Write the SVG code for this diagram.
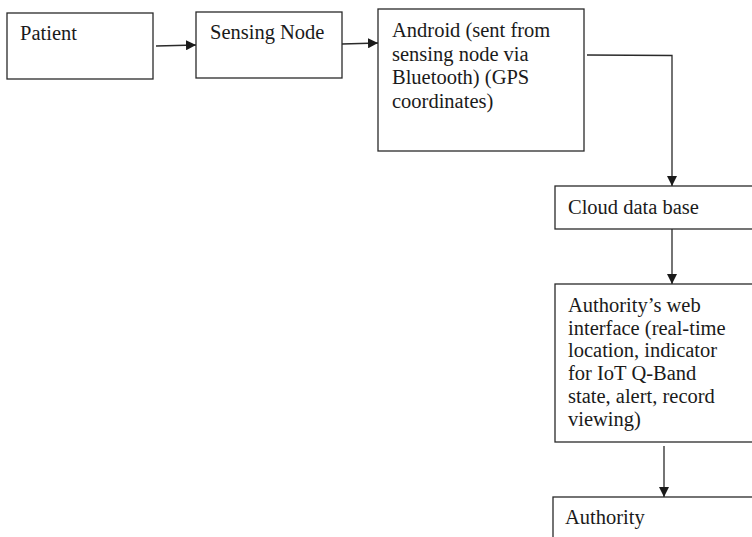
<svg xmlns="http://www.w3.org/2000/svg" width="752" height="537" viewBox="0 0 752 537">
  <style>
    .box { fill: #ffffff; stroke: #2a2a2a; stroke-width: 1.3; }
    .lbl { font-family: "Liberation Serif", "Times New Roman", serif; font-size: 20.5px; fill: #1a1a1a; }
    .wire { fill: none; stroke: #2a2a2a; stroke-width: 1.3; }
  </style>
  <defs>
    <marker id="arrow" viewBox="0 0 10 10" refX="10" refY="5" markerWidth="10" markerHeight="10" markerUnits="userSpaceOnUse" orient="auto">
      <path d="M0,0 L10,5 L0,10 z" fill="#1a1a1a"/>
    </marker>
  </defs>
  <rect width="752" height="537" fill="#ffffff"/>

  <g id="patient">
    <rect class="box" x="7" y="13" width="146" height="66"/>
    <text class="lbl" x="20" y="40">Patient</text>
  </g>

  <g id="sensing-node">
    <rect class="box" x="196" y="12" width="146" height="66"/>
    <text class="lbl" x="210" y="39">Sensing Node</text>
  </g>

  <g id="android">
    <rect class="box" x="378" y="9" width="206" height="142"/>
    <text class="lbl" x="392" y="37">Android (sent from</text>
    <text class="lbl" x="392" y="60.5">sensing node via</text>
    <text class="lbl" x="392" y="84">Bluetooth) (GPS</text>
    <text class="lbl" x="392" y="108">coordinates)</text>
  </g>

  <g id="cloud-db">
    <rect class="box" x="555" y="186" width="210" height="43"/>
    <text class="lbl" x="568" y="214">Cloud data base</text>
  </g>

  <g id="web-interface">
    <rect class="box" x="555" y="284" width="210" height="158"/>
    <text class="lbl" x="568" y="312">Authority’s web</text>
    <text class="lbl" x="568" y="334.5">interface (real-time</text>
    <text class="lbl" x="568" y="357">location, indicator</text>
    <text class="lbl" x="568" y="380">for IoT Q-Band</text>
    <text class="lbl" x="568" y="403">state, alert, record</text>
    <text class="lbl" x="568" y="425.5">viewing)</text>
  </g>

  <g id="authority">
    <rect class="box" x="553" y="497" width="212" height="60"/>
    <text class="lbl" x="565" y="524">Authority</text>
  </g>

  <g id="connectors">
    <path class="wire" d="M156,46 L196,45" marker-end="url(#arrow)"/>
    <path class="wire" d="M342,44 L378,43" marker-end="url(#arrow)"/>
    <path class="wire" d="M587,55 L672,55.5 L672,186" marker-end="url(#arrow)"/>
    <path class="wire" d="M672,229 L672,284" marker-end="url(#arrow)"/>
    <path class="wire" d="M664,446 L664,497" marker-end="url(#arrow)"/>
  </g>
</svg>
